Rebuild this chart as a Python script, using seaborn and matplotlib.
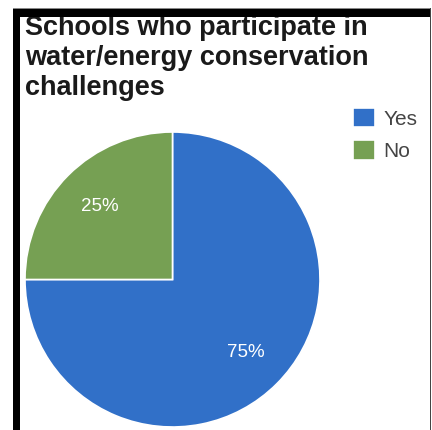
import matplotlib
matplotlib.use("Agg")
import matplotlib.pyplot as plt
from matplotlib.patches import Rectangle
import seaborn as sns

# Data
categories = ["Yes", "No"]
values = [75, 25]
title_lines = ["Schools who participate in", "water/energy conservation", "challenges"]
colors = ["#3170C8", "#76A053"]

sns.set_theme(style="white")
plt.rcParams["font.family"] = ["Liberation Sans", "DejaVu Sans"]
palette = sns.color_palette(colors)

W, H = 432, 430
fig = plt.figure(figsize=(W / 100, H / 100), dpi=100)
fig.patch.set_facecolor("white")

def fx(x):
    return x / W

def fy(y):
    return 1 - y / H

cx, cy, r = 172.5, 279.5, 147.5
ax = fig.add_axes([fx(cx - r), fy(cy + r), 2 * r / W, 2 * r / H])
wedges, texts, autotexts = ax.pie(
    values,
    colors=palette,
    startangle=90,
    counterclock=False,
    autopct="%1.0f%%",
    pctdistance=0.70,
    wedgeprops=dict(edgecolor="white", linewidth=1.2),
    textprops=dict(color="white", fontsize=13.5),
)
ax.set_xlim(-1, 1)
ax.set_ylim(-1, 1)
ax.set_aspect("equal")
ax.axis("off")

# Title
baselines = [35, 65, 95]
for line, b in zip(title_lines, baselines):
    fig.text(fx(25), fy(b), line, fontsize=19.5, fontweight="bold",
             color="#1a1a1a", va="baseline", ha="left", zorder=1)

# Legend
fig.legend(wedges, categories, loc="upper left",
           bbox_to_anchor=(fx(353), fy(108)), frameon=False,
           fontsize=15, handlelength=1.05, handleheight=1.05,
           handletextpad=0.4, labelspacing=0.55, borderaxespad=0,
           borderpad=0, labelcolor="#444444")

# Borders
fig.add_artist(Rectangle((fx(13), fy(430)), fx(7), (430 - 9) / H,
                         transform=fig.transFigure, facecolor="black", edgecolor="none", zorder=10))
fig.add_artist(Rectangle((fx(13), fy(17)), fx(430 - 13), 8 / H,
                         transform=fig.transFigure, facecolor="black", edgecolor="none", zorder=10))
fig.add_artist(Rectangle((fx(13), fy(9)), fx(431 - 13), 1.2 / H,
                         transform=fig.transFigure, facecolor="#888888", edgecolor="none", zorder=10))
fig.add_artist(Rectangle((fx(429.5), fy(430)), 1.5 / W, (430 - 8) / H,
                         transform=fig.transFigure, facecolor="#444444", edgecolor="none", zorder=10))

fig.savefig("out.png", dpi=100)
